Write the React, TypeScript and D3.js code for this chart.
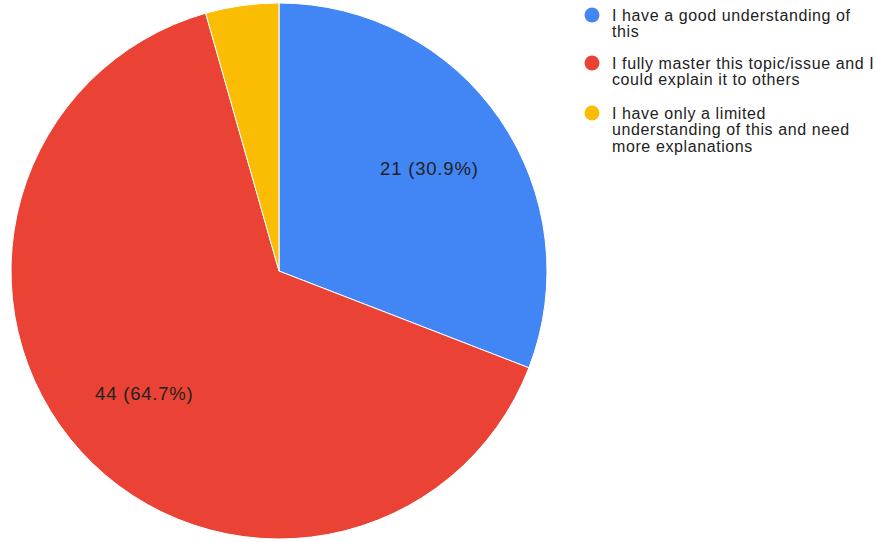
import React from "react";
import * as d3 from "d3";

const categories = [
  "I have a good understanding of this",
  "I fully master this topic/issue and I could explain it to others",
  "I have only a limited understanding of this and need more explanations",
];
const values = [21, 44, 3];
const colors = ["#4285F4", "#EA4335", "#FBBC04"];
const legendLines = [
  ["I have a good understanding of", "this"],
  ["I fully master this topic/issue and I", "could explain it to others"],
  ["I have only a limited", "understanding of this and need", "more explanations"],
];

export default function App() {
  const W = 875, H = 542;
  const cx = 279, cy = 271, r = 268;
  const total = d3.sum(values);
  const pie = d3.pie<number>().sort(null).value((d) => d)(values);
  const arc = d3.arc<d3.PieArcDatum<number>>().innerRadius(0).outerRadius(r);
  const labelArc = d3.arc<d3.PieArcDatum<number>>().innerRadius(r * 0.68).outerRadius(r * 0.68);
  const legendY = [15, 63, 113];
  return (
    <svg width={W} height={H} style={{ position: "absolute", left: 0, top: 0, background: "#fff" }}
      fontFamily="'Liberation Sans', Arial, sans-serif">
      <g transform={`translate(${cx},${cy})`}>
        {pie.map((p, i) => (
          <path key={i} d={arc(p) || ""} fill={colors[i]} stroke="#fff" strokeWidth={1} />
        ))}
        {pie.map((p, i) => {
          if (p.value / total < 0.1) return null;
          const [x, y] = labelArc.centroid(p);
          return (
            <text key={i} x={x} y={y} dy="0.35em" textAnchor="middle" fontSize={18.5} letterSpacing={0.8} fill="#222">
              {`${p.value} (${((p.value / total) * 100).toFixed(1)}%)`}
            </text>
          );
        })}
      </g>
      {categories.map((c, i) => (
        <g key={c}>
          <circle cx={592} cy={legendY[i]} r={7.5} fill={colors[i]} />
          <text x={612} y={legendY[i] + 5.7} fontSize={16} letterSpacing={0.6} fill="#222">
            {legendLines[i].map((l, j) => (
              <tspan key={j} x={612} dy={j === 0 ? 0 : 16.7}>{l}</tspan>
            ))}
          </text>
        </g>
      ))}
    </svg>
  );
}
